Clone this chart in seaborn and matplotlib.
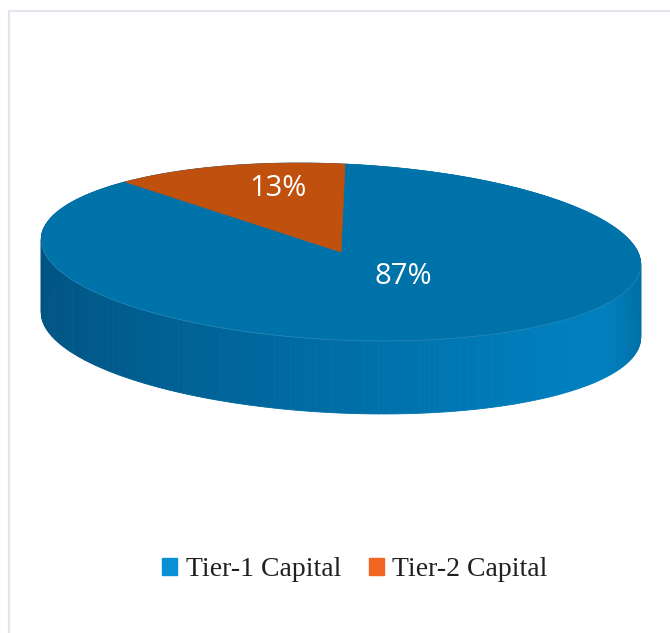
import numpy as np
import matplotlib
matplotlib.use("Agg")
import matplotlib.pyplot as plt
from matplotlib.patches import Polygon, Patch
from matplotlib.lines import Line2D
import seaborn as sns

# Capital composition
categories = ["Tier-1 Capital", "Tier-2 Capital"]
shares = [87, 13]
labels = ["87%", "13%"]

top_colors = ["#0072AA", "#C0500E"]
legend_colors = ["#0A8ED6", "#F26522"]

sns.set_theme(style="white")
plt.rcParams["font.family"] = ["Open Sans", "DejaVu Sans"]

W, H = 670, 633
fig = plt.figure(figsize=(W / 100, H / 100), dpi=100)
ax = fig.add_axes([0, 0, 1, 1])
ax.set_xlim(0, W)
ax.set_ylim(H, 0)
ax.set_aspect("equal")
ax.axis("off")

# chart frame (top and left edges visible)
ax.add_line(Line2D([9, 9, W], [H, 11, 11], color="#E4E4EE", lw=1.6))

# disc geometry in screen units (y downwards)
cx, cy = 341, 252
a, b = 300, 88
tilt = np.deg2rad(2.6)
depth = 73


def rim(theta):
    ux = a * np.cos(theta)
    uy = -b * np.sin(theta)
    x = cx + ux * np.cos(tilt) - uy * np.sin(tilt)
    y = cy + ux * np.sin(tilt) + uy * np.cos(tilt)
    return x, y


# side wall drawn as thin facets, back first
side_dark = np.array([0, 84, 131]) / 255
side_light = np.array([0, 127, 190]) / 255
n = 360
th = np.linspace(0, 2 * np.pi, n + 1)
facets = []
for i in range(n):
    t0, t1 = th[i], th[i + 1]
    x0, y0 = rim(t0)
    x1, y1 = rim(t1)
    tm = 0.5 * (t0 + t1)
    depth_key = np.sin(tm)
    xm = 0.5 * (x0 + x1)
    f = np.clip((xm - (cx - a)) / (2 * a), 0, 1)
    f = np.clip(f * 1.15, 0, 1) ** 0.9
    col = side_dark + (side_light - side_dark) * f
    if xm > cx + 0.88 * a:
        col = col * (1 - 0.12 * (xm - (cx + 0.88 * a)) / (0.12 * a))
    facets.append((depth_key, [(x0, y0), (x1, y1), (x1, y1 + depth), (x0, y0 + depth)], col))
facets.sort(key=lambda r: -r[0])
for _, pts, col in facets:
    ax.add_patch(Polygon(pts, closed=True, facecolor=col, edgecolor=col, lw=0.6))

# top surface wedges: start at 12 o'clock, clockwise
total = float(sum(shares))
start = np.pi / 2
for share, col in zip(shares, top_colors):
    sweep = 2 * np.pi * share / total
    tt = np.linspace(start, start - sweep, max(int(share * 4), 8))
    xs, ys = rim(tt)
    pts = [(cx, cy)] + list(zip(xs, ys))
    ax.add_patch(Polygon(pts, closed=True, facecolor=col, edgecolor=col, lw=0.5))
    start -= sweep

# faint highlight along front rim
tt = np.linspace(np.pi * 1.02, np.pi * 1.98, 200)
xs, ys = rim(tt)
ax.plot(xs, ys, color="#4F9DC8", lw=0.6, alpha=0.45)

# percentage labels
label_xy = [(403, 277), (278, 189)]
for (lx, ly), txt in zip(label_xy, labels):
    ax.text(lx, ly, txt, color="white", fontsize=21, ha="center", va="center")

handles = [Patch(facecolor=c, edgecolor=c) for c in legend_colors]
leg = ax.legend(handles, categories, loc="center", bbox_to_anchor=(355 / W, 1 - 570 / H),
                ncol=2, frameon=False, handlelength=0.55, handleheight=0.55,
                handletextpad=0.3, columnspacing=1.0,
                prop={"family": "Liberation Serif", "size": 20})
for t in leg.get_texts():
    t.set_color("#231F20")

fig.savefig("out.png", dpi=100, facecolor="white")
